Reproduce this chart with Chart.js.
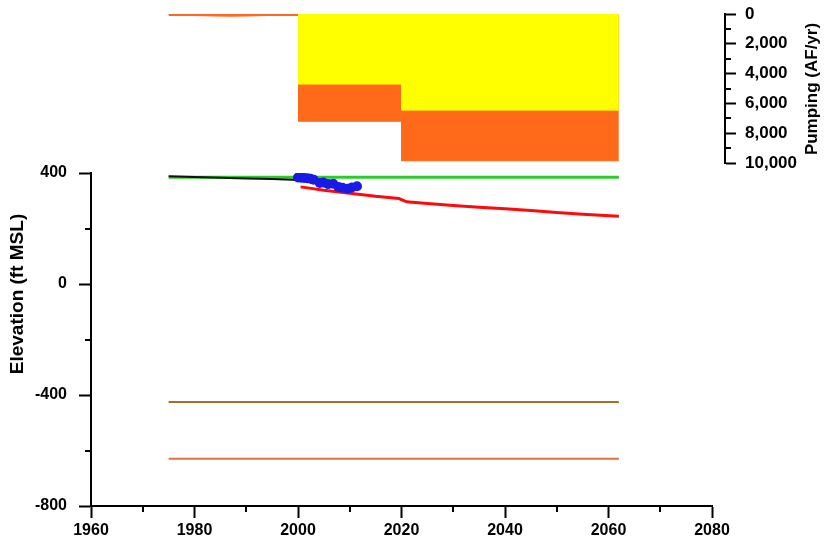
<!DOCTYPE html>
<html>
<head>
<meta charset="utf-8">
<script src="https://cdn.jsdelivr.net/npm/chart.js@4.4.0/dist/chart.umd.min.js"></script>
<style>
  html, body { margin: 0; padding: 0; background: #fff; }
  #wrap { position: relative; width: 824px; height: 551px; }
  #wrap canvas { position: absolute; left: 0; top: 0; }
</style>
</head>
<body>
<div id="wrap">
  <canvas id="graph_elevation" width="824" height="551"></canvas>
  <canvas id="graph_pumping" width="824" height="551"></canvas>
</div>
<script>
// ---- elevation panel (ft MSL) ----
const groundYears = [1975, 2062];
const groundElev = [385, 385];
const histYears = [1975, 1980, 1985, 1990, 1995, 2000];
const histElev = [388, 386, 383, 380, 378, 375];
const obsYears = [2000.0, 2000.6, 2001.2, 2001.8, 2002.4, 2003.0, 2004.2, 2004.9, 2005.8, 2006.8, 2007.8, 2008.6, 2009.6, 2010.4, 2011.4];
const obsElev = [384, 383, 382, 381, 379, 376, 364, 366, 360, 361, 350, 347, 343, 348, 352];
const projYears = [2000.5, 2005, 2010, 2015, 2019.5, 2021, 2025, 2030, 2035, 2040, 2045, 2050, 2055, 2062];
const projElev = [350, 338, 327, 316, 308, 296, 290, 283, 277, 271, 265, 258, 251, 244];
const layerYears = [1975, 2062];
const layerTopElev = [-425, -425];
const layerBotElev = [-630, -630];

// ---- pumping panel (AF/yr) ----
const earlyPumpYears = [1975, 1980, 1984, 1987, 1990, 1994, 2000];
const earlyPump = [30, 40, 70, 90, 70, 40, 40];
const pumpYears = [2000, 2020, 2020, 2062];
const pumpYellow = [4700, 4700, 6450, 6450]; // yellow band (from 0)
const pumpTotal = [7200, 7200, 9850, 9850];  // bottom edge of orange band

// ---- ticks ----
const yearTicks = [1960, 1980, 2000, 2020, 2040, 2060, 2080];
const yearMinor = [1970, 1990, 2010, 2030, 2050, 2070];
const elevTicks = [-800, -400, 0, 400];
const elevMinor = [-600, -200, 200];
const pumpTicks = [0, 2000, 4000, 6000, 8000, 10000];
const pumpMinor = [1000, 3000, 5000, 7000, 9000];

const pts = (xs, ys) => xs.map((x, i) => ({x: x, y: ys[i]}));

Chart.defaults.font.family = '"Liberation Sans", Arial, sans-serif';
Chart.defaults.font.weight = 'bold';
Chart.defaults.color = '#000';

// short minor tick marks, placed through the scale so they line up with the real ticks
function minorTicks(defs) {
  return {
    id: 'minorTicks',
    afterDraw(chart) {
      const ctx = chart.ctx;
      ctx.save();
      ctx.strokeStyle = '#000';
      ctx.lineWidth = 2;
      for (const d of defs) {
        const s = chart.scales[d.scale];
        for (const v of d.values) {
          const p = Math.round(s.getPixelForValue(v));
          ctx.beginPath();
          if (s.position === 'bottom') { ctx.moveTo(p, s.top); ctx.lineTo(p, s.top + d.length); }
          else if (s.position === 'left') { ctx.moveTo(s.right, p); ctx.lineTo(s.right - d.length, p); }
          else { ctx.moveTo(s.left, p); ctx.lineTo(s.left + d.length, p); }
          ctx.stroke();
        }
      }
      ctx.restore();
    }
  };
}

// rotated axis title (bottom-to-top), centred at a given point
function sideTitle(text, x, y, size) {
  return {
    id: 'sideTitle',
    afterDraw(chart) {
      const ctx = chart.ctx;
      ctx.save();
      ctx.translate(x, y);
      ctx.rotate(-Math.PI / 2);
      ctx.font = 'bold ' + size + 'px "Liberation Sans", Arial, sans-serif';
      ctx.fillStyle = '#000';
      ctx.textAlign = 'center';
      ctx.textBaseline = 'middle';
      ctx.fillText(text, 0, 0);
      ctx.restore();
    }
  };
}

const axisGrid = {drawOnChartArea: false, drawTicks: true, tickLength: 12, tickWidth: 2, tickColor: '#000'};
const axisBorder = {display: true, color: '#000', width: 2};

const lineSet = (label, data, color, width) => ({
  label: label, data: data, borderColor: color, backgroundColor: color,
  borderWidth: width, pointRadius: 0, tension: 0, fill: false
});

const elevation = new Chart('graph_elevation', {
  type: 'line',
  data: {
    datasets: [
      {
        label: 'Observed', data: pts(obsYears, obsElev), showLine: false,
        pointRadius: 5, pointBackgroundColor: '#1a1ae6', pointBorderColor: '#1a1ae6', pointBorderWidth: 0
      },
      lineSet('Projected', pts(projYears, projElev), '#ff0a0a', 3),
      lineSet('Historical', pts(histYears, histElev), '#111', 2),
      lineSet('Ground surface', pts(groundYears, groundElev), '#2ccc2c', 3),
      lineSet('Layer top', pts(layerYears, layerTopElev), '#a2702c', 2),
      lineSet('Layer bottom', pts(layerYears, layerBotElev), '#e2703c', 2)
    ]
  },
  options: {
    responsive: false,
    animation: false,
    layout: {padding: {left: 0, top: 173, right: 112, bottom: 0}},
    plugins: {legend: {display: false}, tooltip: {enabled: false}},
    scales: {
      x: {
        type: 'linear', position: 'bottom', min: 1960, max: 2080,
        afterBuildTicks: s => { s.ticks = yearTicks.map(v => ({value: v})); },
        afterFit: s => { s.height = 45; },
        border: axisBorder, grid: axisGrid,
        ticks: {padding: 3, font: {size: 16, weight: 'bold'}, callback: v => String(v), maxRotation: 0}
      },
      y: {
        type: 'linear', position: 'left', min: -800, max: 400,
        afterBuildTicks: s => { s.ticks = elevTicks.map(v => ({value: v})); },
        afterFit: s => { s.width = 91; },
        border: axisBorder, grid: axisGrid,
        ticks: {padding: 12, font: {size: 16, weight: 'bold'}, callback: v => String(v)}
      }
    }
  },
  plugins: [
    minorTicks([
      {scale: 'x', values: yearMinor, length: 6},
      {scale: 'y', values: elevMinor, length: 6}
    ]),
    sideTitle('Elevation (ft MSL)', 18, 294, 19)
  ]
});

// top panel shares the year scale: same px per year, its axis sits a little past 2080
const pxPerYear = (712 - 91) / 120;
const topXMax = 1960 + (725 - 91) / pxPerYear;

const pumping = new Chart('graph_pumping', {
  type: 'line',
  data: {
    datasets: [
      {
        label: 'Pumping early', data: pts(earlyPumpYears, earlyPump),
        borderColor: '#ff6a1e', borderWidth: 3, pointRadius: 0, tension: 0, fill: false
      },
      {
        label: 'Pumping A', data: pts(pumpYears, pumpYellow),
        borderColor: '#ffff00', backgroundColor: '#ffff00', borderWidth: 1, pointRadius: 0, tension: 0, fill: 'origin'
      },
      {
        label: 'Pumping total', data: pts(pumpYears, pumpTotal),
        borderColor: '#ff6a1a', backgroundColor: '#ff6a1a', borderWidth: 1, pointRadius: 0, tension: 0, fill: 'origin'
      }
    ]
  },
  options: {
    responsive: false,
    animation: false,
    layout: {padding: {left: 91, top: 14, right: 0, bottom: 388}},
    plugins: {legend: {display: false}, tooltip: {enabled: false}},
    scales: {
      x: {type: 'linear', display: false, min: 1960, max: topXMax},
      y: {
        type: 'linear', position: 'right', min: 0, max: 10000, reverse: true,
        afterBuildTicks: s => { s.ticks = pumpTicks.map(v => ({value: v})); },
        // fixed width; drop the label overhang so the plot can reach the top edge
        afterFit: s => { s.width = 99; s.paddingTop = 0; s.paddingBottom = 0; },
        border: axisBorder,
        grid: {drawOnChartArea: false, drawTicks: true, tickLength: 11, tickWidth: 2, tickColor: '#000'},
        ticks: {padding: 9, font: {size: 17, weight: 'bold'}, callback: v => v.toLocaleString('en-US')}
      }
    }
  },
  plugins: [
    minorTicks([{scale: 'y', values: pumpMinor, length: 6}]),
    sideTitle('Pumping (AF/yr)', 812, 89, 17)
  ]
});
</script>
</body>
</html>
